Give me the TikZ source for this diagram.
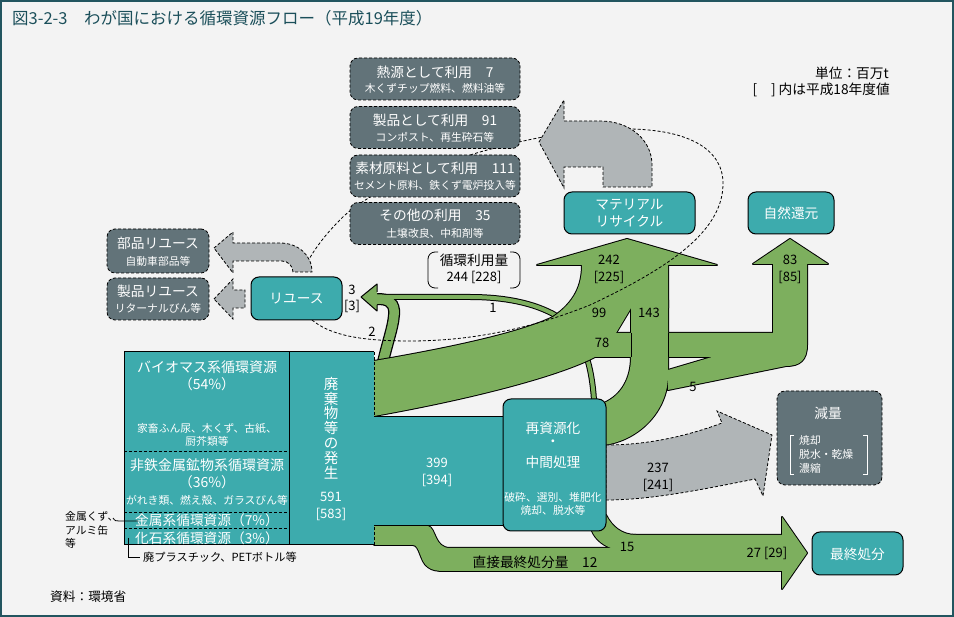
\documentclass[tikz,border=0pt]{standalone}
\usepackage{fontspec}
\setmainfont{Noto Sans CJK JP}
\definecolor{bg}{HTML}{F3F3F3}
\definecolor{framec}{HTML}{22555F}
\definecolor{titlec}{HTML}{1B4F5A}
\definecolor{tealc}{HTML}{3DABAD}
\definecolor{slatec}{HTML}{627379}
\definecolor{grayar}{HTML}{B0B5B7}
\definecolor{grn}{HTML}{7DAF5E}
\begin{document}
\begin{tikzpicture}[x=1pt,y=-1pt,
  every node/.style={inner sep=0pt},
  dsh/.style={dash pattern=on 3pt off 2pt},
  sbox/.style={draw=black, dsh, line width=0.8pt, fill=slatec, rounded corners=8pt},
  tbox/.style={draw=black, line width=1pt, fill=tealc, rounded corners=8pt},
  garrow/.style={draw=black, dsh, line width=0.8pt, fill=grayar},
  ftit/.style={font=\fontsize{13.7}{15}\selectfont},
  fsub/.style={font=\fontsize{10.8}{12}\selectfont},
  fnum/.style={font=\fontsize{13}{15}\selectfont},
  wt/.style={text=white},
  pS1/.style={insert path={(374,361) .. controls (450,348) and (520,333) .. (553,317) .. controls (575,302) and (582,285) .. (582,265) -- (537,265) -- (627,239) -- (717,265) -- (668,265) -- (668,308) -- (631,308) -- (616,333) -- (600,336) -- (595,357) .. controls (560,375) and (480,397) .. (374,416) -- cycle}},
  pS3/.style={insert path={(590,333) -- (773,333) -- (773,264) -- (753,264) -- (790,239) -- (828,264) -- (807,264) -- (807,345) .. controls (807,360) and (800,366) .. (786,366) -- (668,390) -- (668,370) -- (712,357) -- (590,357) -- cycle}},
  pS4/.style={insert path={(631,300) -- (668,300) -- (668,375) .. controls (668,410) and (640,440) .. (604,445) -- (604,403) .. controls (622,395) and (631,378) .. (631,357) -- cycle}},
  pS5/.style={insert path={(374,526) -- (428,526) .. controls (436,528) and (434,548) .. (450,548) -- (614,548) -- (632,535) -- (782,535) -- (782,517) -- (807,553) -- (782,589) -- (782,571) -- (445,571) .. controls (436,571) and (432,570) .. (428,567) .. controls (420,562) and (420,545) .. (413,545) -- (374,545) -- cycle}},
  pS6/.style={insert path={(592,531) -- (606,515) .. controls (612,527) and (622,535) .. (636,535) -- (636,549) -- (614,549) .. controls (604,546) and (596,540) .. (592,531) -- cycle}}
]
\useasboundingbox (0,0) rectangle (954,617);
\fill[bg] (0,0) rectangle (954,617);
\draw[framec, line width=2pt] (1,1) rectangle (953,616);

\node[anchor=west, text=titlec, font=\fontsize{16.5}{18}\selectfont] (title) at (12,18) {図3-2-3　わが国における循環資源フロー（平成19年度）};

\node[anchor=east, ftit] (unit) at (889,73) {単位：百万t};
\node[anchor=east, ftit] (unit2) at (890,90) {[　] 内は平成18年度値};
\node[anchor=west, font=\fontsize{12.7}{14}\selectfont] (src) at (50,597) {資料：環境省};

% thin green lines 1 and 2
\draw[line width=6pt, black] (377,297) -- (470,297) .. controls (510,297) and (540,305) .. (560,318) .. controls (585,335) and (592,370) .. (594,400);
\draw[line width=12pt, black] (383,362) .. controls (388,340) and (395,322) .. (394,310) .. controls (393,302) and (388,299) .. (377,299);
\draw[line width=4pt, grn] (377,297) -- (470,297) .. controls (510,297) and (540,305) .. (560,318) .. controls (585,335) and (592,370) .. (594,400);
\draw[line width=9.5pt, grn] (383,362) .. controls (388,340) and (395,322) .. (394,310) .. controls (393,302) and (388,299) .. (377,299);
\fill[grn] (361,297) -- (377,284) -- (377,311) -- cycle;
\draw[line width=1pt, line join=round] (377,292) -- (377,284) -- (361,297) -- (377,311) -- (377,305);

% green flows (union)
\foreach \p in {pS1,pS3,pS4,pS5,pS6} \draw[line width=2pt, black, line join=round, \p];
\foreach \p in {pS1,pS3,pS4,pS5,pS6} \fill[grn, \p];
\draw[line width=1pt] (631,333) -- (631,357);
\draw[line width=1pt] (668,333) -- (668,357);

% dashed loop
\draw[dsh, line width=0.8pt] (312,320) .. controls (330,335) and (360,341) .. (410,341) .. controls (480,341) and (540,325) .. (590,305) .. controls (660,272) and (722,235) .. (723,185) .. controls (724,150) and (690,130) .. (630,129) .. controls (580,128) and (530,138) .. (480,152) .. controls (430,167) and (365,192) .. (338,222) .. controls (322,238) and (308,258) .. (303,272);

% gray arrows
\draw[garrow] (214,248) -- (233,232) -- (233,243) -- (280,243) .. controls (298,243) and (312,255) .. (312,272) -- (293,272) .. controls (293,266) and (288,261) .. (282,261) -- (233,261) -- (233,273) -- cycle;
\draw[garrow] (214,299) -- (233,279) -- (233,290) -- (245,290) -- (245,308) -- (233,308) -- (233,319) -- cycle;
\draw[garrow] (539,142) -- (564,100) -- (564,121) -- (600,121) .. controls (630,121) and (652,140) .. (652,165) -- (652,187) -- (603,187) -- (603,167) -- (564,167) -- (564,188) -- cycle;
\draw[garrow] (606,445) .. controls (650,445) and (690,435) .. (722,423) -- (717,411) -- (772,435) -- (763,496) -- (755,479) .. controls (700,490) and (650,500) .. (606,500) -- cycle;

% use boxes
\node[sbox, minimum width=170, minimum height=42] (heat) at (435,79) {};
\node[ftit, wt] (heatT) at (435,72) {熱源として利用　7};
\node[fsub, wt] (heatS) at (435,88) {木くずチップ燃料、燃料油等};
\node[sbox, minimum width=170, minimum height=42] (prod) at (435,127.5) {};
\node[ftit, wt] (prodT) at (435,120) {製品として利用　91};
\node[fsub, wt] (prodS) at (435,137) {コンポスト、再生砕石等};
\node[sbox, minimum width=170, minimum height=42] (mat) at (435,176) {};
\node[ftit, wt] (matT) at (435,168) {素材原料として利用　111};
\node[fsub, wt] (matS) at (435,185) {セメント原料、鉄くず電炉投入等};
\node[sbox, minimum width=170, minimum height=42] (oth) at (435,223.5) {};
\node[ftit, wt] (othT) at (435,215) {その他の利用　35};
\node[fsub, wt] (othS) at (435,233) {土壌改良、中和剤等};

\node[sbox, minimum width=102, minimum height=44] (parts) at (158,251) {};
\node[ftit, wt] (partsT) at (158,243) {部品リユース};
\node[fsub, wt] (partsS) at (158,261) {自動車部品等};
\node[sbox, minimum width=102, minimum height=42] (preuse) at (158,299) {};
\node[ftit, wt] (preuseT) at (158,291) {製品リユース};
\node[fsub, wt] (preuseS) at (158,308) {リターナルびん等};

\node[tbox, minimum width=91, minimum height=43] (reuse) at (296.5,298.5) {};
\node[ftit, wt] (reuseT) at (296.5,299) {リユース};

\node[tbox, minimum width=131, minimum height=42] (mr) at (629.5,213) {};
\node[ftit, wt, align=center, font=\fontsize{13.7}{17}\selectfont] (mrT) at (629.5,213.5) {マテリアル\\リサイクル};
\node[tbox, minimum width=86, minimum height=42] (nat) at (791,213) {};
\node[ftit, wt] (natT) at (791,213) {自然還元};

\node[sbox, minimum width=105, minimum height=94] (red) at (829.5,438) {};
\node[ftit, wt] (redT) at (828,413) {減量};
\node[wt, anchor=west, align=left, font=\fontsize{10.8}{14}\selectfont] (redS) at (799,454) {焼却\\脱水・乾燥\\濃縮};
\draw[white, line width=0.8pt] (794,435) -- (790,435) -- (790,474) -- (794,474);
\draw[white, line width=0.8pt] (863,435) -- (867,435) -- (867,474) -- (863,474);

\node[tbox, minimum width=91, minimum height=43] (fin) at (857.5,553.5) {};
\node[ftit, wt] (finT) at (857.5,554) {最終処分};

% table
\fill[tealc] (124,352) rectangle (374,545);
\draw[line width=1pt] (374,352) -- (124,352) -- (124,545) -- (374,545);
\draw[line width=1pt] (289,352) -- (289,545);
\draw[dsh, line width=0.8pt] (374,352) -- (374,545);
\draw[dsh, line width=0.8pt] (124,451) -- (289,451);
\draw[dsh, line width=0.8pt] (124,512) -- (289,512);
\draw[dsh, line width=0.8pt] (124,528) -- (289,528);
\node[ftit, wt, font=\fontsize{14}{15}\selectfont] (bio) at (207,367) {バイオマス系循環資源};
\node[ftit, wt, font=\fontsize{14}{15}\selectfont] (bioP) at (207,384) {（54\%）};
\node[fsub, wt] (bioS1) at (207,429) {家畜ふん尿、木くず、古紙、};
\node[fsub, wt] (bioS2) at (207,441) {厨芥類等};
\node[ftit, wt, font=\fontsize{14}{15}\selectfont] (nfm) at (207,465) {非鉄金属鉱物系循環資源};
\node[ftit, wt, font=\fontsize{14}{15}\selectfont] (nfmP) at (207,482) {（36\%）};
\node[fsub, wt] (nfmS) at (207,500) {がれき類、燃え殻、ガラスびん等};
\node[ftit, wt] (met) at (207,520) {金属系循環資源（7\%）};
\node[ftit, wt] (fos) at (207,538) {化石系循環資源（3\%）};
\node[wt, font=\fontsize{14.5}{14.8}\selectfont, align=center] (gen) at (331,428) {廃\\棄\\物\\等\\の\\発\\生};
\node[fnum, wt] (genN) at (331,497) {591};
\node[fnum, wt] (genB) at (331,514) {[583]};

% teal band and recycling box
\fill[tealc] (374,417) rectangle (510,526);
\draw[line width=1pt] (374,417) -- (510,417);
\draw[line width=1pt] (374,526) -- (510,526);
\node[fnum, wt] (n399) at (437,463) {399};
\node[fnum, wt] (n394) at (437,480) {[394]};
\node[tbox, minimum width=103, minimum height=132] (rec) at (554.5,465) {};
\node[ftit, wt] (recT1) at (553,428) {再資源化};
\node[ftit, wt] (recT2) at (553,443) {・};
\node[ftit, wt] (recT3) at (553,462) {中間処理};
\node[fsub, wt] (recS1) at (553,497) {破砕、選別、堆肥化};
\node[fsub, wt] (recS2) at (553,510) {焼却、脱水等};

% annotations left
\node[anchor=west, font=\fontsize{10.8}{13.5}\selectfont, align=left] (metal) at (65,530) {金属くず、\\アルミ缶\\等};
\draw[line width=0.8pt] (113,518) .. controls (115,521) and (116,521) .. (119,521) -- (138,521);
\draw[line width=0.8pt] (128,538) -- (128,557) -- (140,557);
\node[anchor=west, font=\fontsize{11.2}{12}\selectfont] (plas) at (143,557) {廃プラスチック、PETボトル等};

% circulation label
\draw[line width=0.8pt, rounded corners=7pt] (438,252) -- (428,252) -- (428,288) -- (438,288);
\draw[line width=0.8pt, rounded corners=7pt] (510,252) -- (520,252) -- (520,288) -- (510,288);
\node[ftit] (circT) at (474,260) {循環利用量};
\node[fnum] (circN) at (474,277) {244 [228]};

% numbers
\node[fnum] (l3) at (352,290) {3};
\node[fnum] (l3b) at (352,306) {[3]};
\node[fnum] (l2) at (372,332) {2};
\node[fnum] (l1) at (493,308) {1};
\node[fnum] (l242) at (609,260) {242};
\node[fnum] (l225) at (609,277) {[225]};
\node[fnum] (l99) at (599,313) {99};
\node[fnum] (l143) at (649,313) {143};
\node[fnum] (l78) at (602,343) {78};
\node[fnum] (l5) at (693,387) {5};
\node[fnum] (l83) at (790,260) {83};
\node[fnum] (l85) at (790,277) {[85]};
\node[fnum] (l237) at (658,468) {237};
\node[fnum] (l241) at (658,485) {[241]};
\node[fnum] (l15) at (627,547) {15};
\node[fnum] (l27) at (767,553) {27 [29]};
\node[ftit] (l12) at (535,562) {直接最終処分量　12};
\end{tikzpicture}
\end{document}
